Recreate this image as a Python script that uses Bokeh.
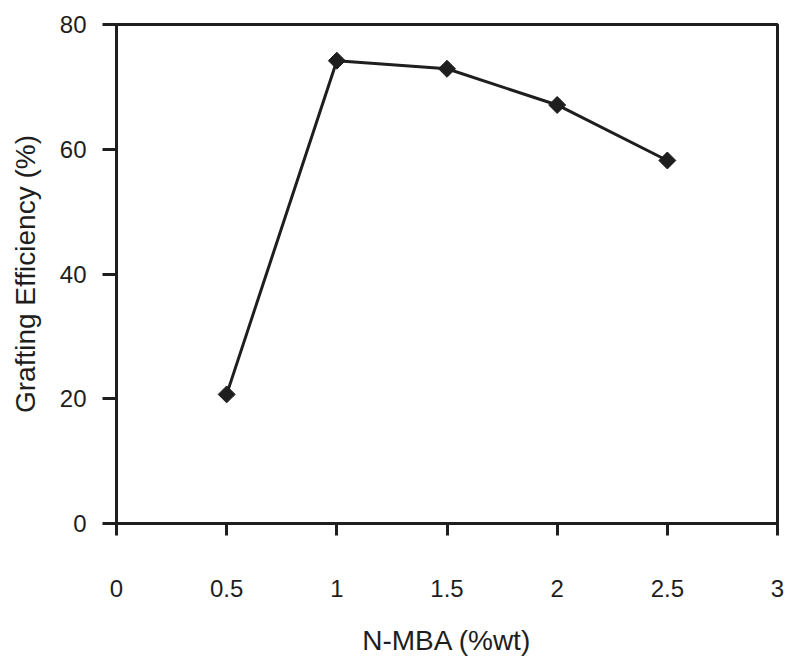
import math
from bokeh.plotting import figure
from bokeh.models import Range1d, FixedTicker
from bokeh.embed import file_html
from bokeh.resources import INLINE

# N-MBA content (%wt) and grafting efficiency (%)
nmba = [0.5, 1.0, 1.5, 2.0, 2.5]
efficiency = [20.7, 74.2, 72.9, 67.1, 58.2]

x_ticks = [0, 0.5, 1, 1.5, 2, 2.5, 3]
y_ticks = [0, 20, 40, 60, 80]

FONT = "Liberation Sans"
INK = "#1e1e1e"

p = figure(width=789, height=659, output_backend="svg", toolbar_location=None,
           x_range=Range1d(0, 3), y_range=Range1d(0, 80),
           min_border_left=116, min_border_right=12,
           min_border_top=24, min_border_bottom=136)

p.grid.visible = False
p.background_fill_color = "white"
p.border_fill_color = "white"
p.outline_line_color = INK
p.outline_line_width = 3

for ax in (p.xaxis[0], p.yaxis[0]):
    ax.axis_line_color = INK
    ax.axis_line_width = 3
    ax.major_tick_line_color = INK
    ax.major_tick_line_width = 3
    ax.major_tick_in = 0
    ax.minor_tick_line_color = None
    ax.major_label_text_font = FONT
    ax.major_label_text_font_size = "24px"
    ax.major_label_text_color = INK
    ax.axis_label_text_font = FONT
    ax.axis_label_text_font_size = "28px"
    ax.axis_label_text_font_style = "normal"
    ax.axis_label_text_color = INK

p.xaxis.ticker = FixedTicker(ticks=x_ticks)
p.xaxis.major_label_overrides = {0: "0", 0.5: "0.5", 1: "1", 1.5: "1.5",
                                 2: "2", 2.5: "2.5", 3: "3"}
p.xaxis.major_tick_out = 12
p.xaxis.major_label_standoff = 44
p.xaxis.axis_label = "N-MBA (%wt)"
p.xaxis.axis_label_standoff = 25

p.yaxis.ticker = FixedTicker(ticks=y_ticks)
p.yaxis.major_tick_out = 14
p.yaxis.major_label_standoff = 16
p.yaxis.axis_label = "Grafting Efficiency (%)"
p.yaxis.axis_label_standoff = 16

p.line(nmba, efficiency, line_color=INK, line_width=3)
# diamonds drawn as squares turned by 45 degrees
p.scatter(nmba, efficiency, marker="square", size=12, angle=math.pi / 4,
          fill_color=INK, line_color=INK, line_width=1)

open("out.html", "w").write(file_html(p, INLINE))
